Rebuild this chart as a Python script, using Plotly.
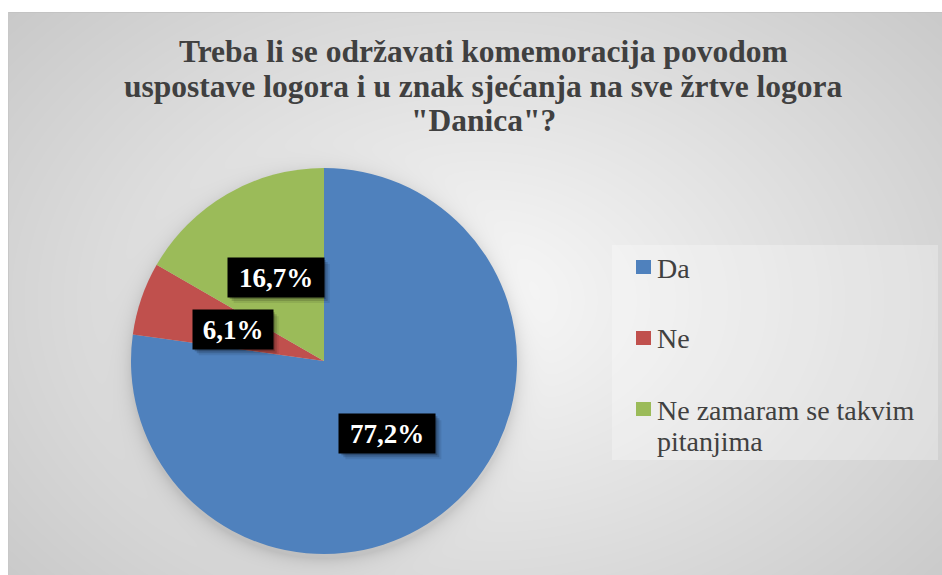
import base64
import math
import struct
import zlib

import numpy as np
import plotly.graph_objects as go

# --- data -------------------------------------------------------------
title_lines = [
    "Treba li se održavati komemoracija povodom",
    "uspostave logora i u znak sjećanja na sve žrtve logora",
    "\"Danica\"?",
]
categories = ["Da", "Ne", "Ne zamaram se takvim pitanjima"]
legend_labels = ["Da", "Ne", "Ne zamaram se takvim<br>pitanjima"]
shares = [77.2, 6.1, 16.7]
colors = ["#4F81BD", "#C0504D", "#9BBB59"]

W, H = 942, 575

# pie geometry (pixels)
PIE_CX, PIE_CY, PIE_R = 324, 361, 193
SERIF = "Liberation Serif"


def px_x(x):
    return x / W


def px_y(y):
    return 1 - y / H


# --- background bitmap: soft radial gradient, chart frame, pie shadow ---
def make_background():
    yy, xx = np.mgrid[0:H, 0:W].astype(float)
    t = np.sqrt(((xx - 480) / 560) ** 2 + ((yy - 300) / 400) ** 2)
    v = 249 - 43 * np.clip(t, 0, 1.3)
    # soft drop shadow under the pie
    d = np.sqrt((xx - PIE_CX) ** 2 + (yy - (PIE_CY + 4)) ** 2) - PIE_R
    shade = 26 * np.exp(-np.clip(d, 0, None) / 8.0)
    v = v - shade
    img = np.repeat(v[:, :, None], 3, axis=2)
    # outside the chart frame is white
    img[:12, :, :] = 255
    img[:, :8, :] = 255
    img[12, 8:, :] = 195
    img[12:, 8, :] = 200
    return np.clip(img, 0, 255).astype(np.uint8)


def png_uri(arr):
    h, w, _ = arr.shape
    raw = b"".join(b"\x00" + arr[i].tobytes() for i in range(h))

    def chunk(tag, data):
        c = struct.pack(">I", len(data)) + tag + data
        return c + struct.pack(">I", zlib.crc32(tag + data) & 0xFFFFFFFF)

    png = b"\x89PNG\r\n\x1a\n"
    png += chunk(b"IHDR", struct.pack(">IIBBBBB", w, h, 8, 2, 0, 0, 0))
    png += chunk(b"IDAT", zlib.compress(raw, 9))
    png += chunk(b"IEND", b"")
    return "data:image/png;base64," + base64.b64encode(png).decode()


fig = go.Figure()

fig.add_trace(
    go.Pie(
        labels=categories,
        values=shares,
        marker=dict(colors=colors, line=dict(width=0)),
        sort=False,
        direction="clockwise",
        rotation=0,
        textinfo="none",
        hoverinfo="label+percent",
        showlegend=False,
        domain=dict(
            x=[px_x(PIE_CX - PIE_R), px_x(PIE_CX + PIE_R)],
            y=[px_y(PIE_CY + PIE_R), px_y(PIE_CY - PIE_R)],
        ),
    )
)

shapes = []
annotations = []

# title, one annotation per line for tight line spacing
for i, line in enumerate(title_lines):
    annotations.append(
        dict(
            x=px_x(483), y=px_y(51 + 35 * i), xref="paper", yref="paper",
            xanchor="center", yanchor="middle", showarrow=False,
            text=f"<b>{line}</b>",
            font=dict(family=SERIF, size=31.5, color="#404040"),
        )
    )

# value labels: black boxes at half radius, centred on each slice's mid-angle
total = sum(shares)
cum = 0.0
for val in shares:
    mid = (cum + val / 2) / total * 2 * math.pi
    cum += val
    lx = PIE_CX + 0.5 * PIE_R * math.sin(mid)
    ly = PIE_CY - 0.5 * PIE_R * math.cos(mid)
    text = f"{val:.1f}%".replace(".", ",")
    bw = 96 if len(text) > 4 else 80
    bh = 39
    for k, op in enumerate([0.22, 0.14, 0.08]):
        o = 2 + 2 * k
        shapes.append(
            dict(
                type="rect", xref="paper", yref="paper",
                x0=px_x(lx - bw / 2 + o), x1=px_x(lx + bw / 2 + o),
                y0=px_y(ly + bh / 2 + o), y1=px_y(ly - bh / 2 + o),
                fillcolor="black", opacity=op, line=dict(width=0),
                layer="above",
            )
        )
    annotations.append(
        dict(
            x=px_x(lx), y=px_y(ly), xref="paper", yref="paper",
            xanchor="center", yanchor="middle", showarrow=False,
            text=f"<b>{text}</b>",
            font=dict(family=SERIF, size=27, color="white"),
            bgcolor="black", width=bw - 4, height=bh - 4, borderpad=2,
        )
    )

# legend panel
shapes.append(
    dict(
        type="rect", xref="paper", yref="paper",
        x0=px_x(612), x1=px_x(938), y0=px_y(460), y1=px_y(245),
        fillcolor="rgba(255,255,255,0.28)", line=dict(width=0), layer="below",
    )
)
legend_rows = [267, 338, 409]
for lab, col, yc in zip(legend_labels, colors, legend_rows):
    shapes.append(
        dict(
            type="rect", xref="paper", yref="paper",
            x0=px_x(636), x1=px_x(651), y0=px_y(yc + 7), y1=px_y(yc - 7),
            fillcolor=col, line=dict(width=0), layer="above",
        )
    )
    for j, part in enumerate(lab.split("<br>")):
        annotations.append(
            dict(
                x=px_x(655), y=px_y(yc + 1 + 31 * j), xref="paper", yref="paper",
                xanchor="left", yanchor="middle", showarrow=False, align="left",
                text=part,
                font=dict(family=SERIF, size=28, color="#404040"),
            )
        )

fig.update_layout(
    width=W,
    height=H,
    margin=dict(l=0, r=0, t=0, b=0),
    paper_bgcolor="white",
    plot_bgcolor="white",
    showlegend=False,
    images=[
        dict(
            source=png_uri(make_background()),
            xref="paper", yref="paper", x=0, y=1, sizex=1, sizey=1,
            xanchor="left", yanchor="top", sizing="stretch", layer="below",
        )
    ],
    shapes=shapes,
    annotations=annotations,
)

fig.write_html("out.html")
